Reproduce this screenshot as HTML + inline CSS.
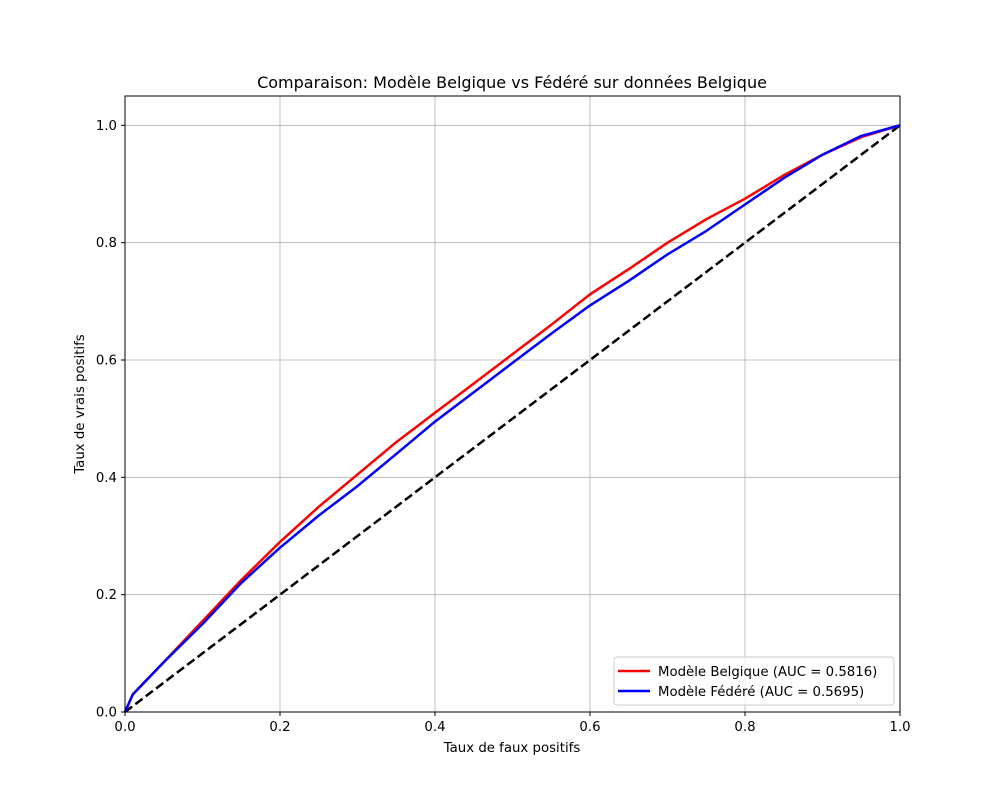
<!DOCTYPE html>
<html><head><meta charset="utf-8">
<style>
body{margin:0;background:#fff;}
svg{font-family:"DejaVu Sans","Liberation Sans",sans-serif;}
</style></head>
<body>
<svg id="chart" width="1000" height="800" viewBox="0 0 1000 800">
<rect x="0" y="0" width="1000" height="800" fill="#fff"/>
<g id="grid"></g>
<g id="series"></g>
<rect x="125" y="96" width="775" height="616" fill="none" stroke="#000" stroke-width="1"/>
<g id="ticks"></g>
<text x="512" y="88" text-anchor="middle" font-size="16">Comparaison: Modèle Belgique vs Fédéré sur données Belgique</text>
<text x="512" y="752" text-anchor="middle" font-size="13.3">Taux de faux positifs</text>
<text transform="translate(84,404) rotate(-90)" text-anchor="middle" font-size="13.3">Taux de vrais positifs</text>
<g>
<rect x="614" y="657" width="280" height="48" rx="3" fill="#fff" fill-opacity="0.8" stroke="#ccc"/>
<line x1="618" y1="671" x2="650" y2="671" stroke="#f00" stroke-width="2.5"/>
<text x="658" y="676" font-size="13.3">Modèle Belgique (AUC = 0.5816)</text>
<line x1="618" y1="691" x2="650" y2="691" stroke="#00f" stroke-width="2.5"/>
<text x="658" y="696" font-size="13.3">Modèle Fédéré (AUC = 0.5695)</text>
</g>
</svg>
<script>
const fprPoints = [0,0.01,0.05,0.1,0.15,0.2,0.25,0.3,0.35,0.4,0.45,0.5,0.55,0.6,0.65,0.7,0.75,0.8,0.85,0.9,0.95,1];
const tprBelgique = [0,0.03,0.085,0.155,0.225,0.29,0.35,0.405,0.46,0.51,0.56,0.61,0.66,0.712,0.755,0.8,0.84,0.875,0.915,0.95,0.98,1];
const tprFedere = [0,0.03,0.085,0.15,0.22,0.28,0.335,0.385,0.44,0.495,0.545,0.595,0.645,0.693,0.735,0.78,0.82,0.865,0.91,0.95,0.982,1];
const xTicks = [0,0.2,0.4,0.6,0.8,1.0];
const yTicks = [0,0.2,0.4,0.6,0.8,1.0];
const NS="http://www.w3.org/2000/svg";
const X=v=>125+v*775, Y=v=>712-v*(616/1.05);
const grid=document.getElementById('grid'), ticks=document.getElementById('ticks'), series=document.getElementById('series');
function mk(t,a,p){const e=document.createElementNS(NS,t);for(const k in a)e.setAttribute(k,a[k]);p.appendChild(e);return e;}
xTicks.forEach(v=>{
  const g=mk('line',{x1:X(v),x2:X(v),y1:96,y2:712,stroke:'#b0b0b0','stroke-width':0.8},grid);
  
  
  const t=mk('line',{x1:X(v),x2:X(v),y1:712,y2:716,stroke:'#000'},ticks);
  
  
  const l=mk('text',{x:X(v),y:731,'text-anchor':'middle','font-size':13.3},ticks);
  l.textContent=v.toFixed(1);
  
  
});
yTicks.forEach(v=>{
  const g=mk('line',{x1:125,x2:900,y1:Y(v),y2:Y(v),stroke:'#b0b0b0','stroke-width':0.8},grid);
  
  
  const t=mk('line',{x1:121,x2:125,y1:Y(v),y2:Y(v),stroke:'#000'},ticks);
  
  
  const l=mk('text',{x:117,y:Y(v)+4.5,'text-anchor':'end','font-size':13.3},ticks);
  l.textContent=v.toFixed(1);
  
  
});
const diag=mk('line',{x1:X(0),y1:Y(0),x2:X(1),y2:Y(1),stroke:'#000','stroke-width':2.5,'stroke-dasharray':'9,4'},series);


function curve(ys,color,name){
  const d=fprPoints.map((x,i)=>(i?'L':'M')+X(x).toFixed(1)+','+Y(ys[i]).toFixed(1)).join('');
  const p=mk('path',{d:d,fill:'none',stroke:color,'stroke-width':2.5,'stroke-linejoin':'round'},series);
  
  
}
curve(tprBelgique,'#f00','roc-curve-belgique');
curve(tprFedere,'#00f','roc-curve-federe');
</script>
</body></html>
